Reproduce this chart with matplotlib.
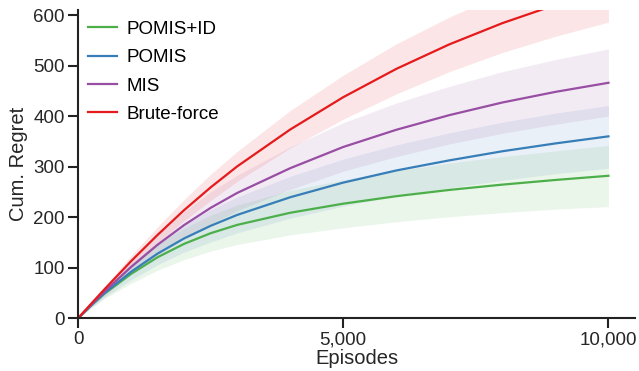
import matplotlib
matplotlib.use("Agg")
import matplotlib.pyplot as plt
from matplotlib.ticker import FuncFormatter

plt.rcParams['font.family'] = ['Liberation Sans', 'DejaVu Sans']

episodes = [0, 250, 500, 1000, 1500, 2000, 2500, 3000, 4000, 5000, 6000, 7000, 8000, 9000, 10000]

pomis_id_mean = [0, 25.5, 48.8, 87.8, 120.8, 147.3, 168.3, 184.8, 208.8, 226.8, 241.6, 254, 264.5, 273.7, 282]
pomis_id_low = [0, 20, 39, 69, 95, 116, 133, 146, 165, 179, 191, 201, 209, 216, 221]
pomis_id_high = [0, 31, 59, 106, 146, 178, 204, 224, 253, 274, 292, 307, 320, 331, 342]

pomis_mean = [0, 26, 50, 92, 128, 158, 183, 204.5, 239.5, 268.5, 292.5, 312.5, 330.5, 346, 360]
pomis_low = [0, 21, 41, 76, 106, 131, 151, 169, 198, 222, 242, 258, 273, 286, 297]
pomis_high = [0, 31, 59, 108, 150, 185, 215, 240, 281, 315, 343, 367, 388, 406, 421]

mis_mean = [0, 27, 53, 101.5, 145.5, 184.5, 218.5, 248, 297, 339, 373, 402, 427, 448, 466]
mis_low = [0, 23, 45, 87, 125, 158, 187, 213, 255, 291, 320, 345, 366, 384, 400]
mis_high = [0, 31, 61, 116, 166, 211, 250, 283, 339, 387, 426, 459, 488, 512, 533]

brute_mean = [0, 29, 57.5, 113, 165, 214, 259, 300.5, 373.5, 437.5, 493.5, 542, 584, 620, 651]
brute_low = [0, 26, 52, 102, 149, 193, 233, 271, 337, 394, 444, 488, 526, 558, 586]
brute_high = [0, 32, 63, 124, 181, 235, 285, 330, 411, 481, 543, 596, 642, 682, 716]

labels = ['POMIS+ID', 'POMIS', 'MIS', 'Brute-force']
colors = ['#4daf4a', '#377eb8', '#984ea3', '#e41a1c']
means = [pomis_id_mean, pomis_mean, mis_mean, brute_mean]
lows = [pomis_id_low, pomis_low, mis_low, brute_low]
highs = [pomis_id_high, pomis_high, mis_high, brute_high]

xticks = [0, 5000, 10000]
yticks = [0, 100, 200, 300, 400, 500, 600]

fig = plt.figure(figsize=(6.39, 3.71), dpi=100)
ax = fig.add_axes([78/639, 1 - 318.3/371, (635-78)/639, (318.3-10)/371])

for m, lo, hi, c in zip(means, lows, highs, colors):
    ax.fill_between(episodes, lo, hi, color=c, alpha=0.11, linewidth=0)
for m, c, lab in zip(means, colors, labels):
    ax.plot(episodes, m, color=c, lw=1.6, label=lab, solid_joinstyle='round')

ax.set_xlim(0, 10500)
ax.set_ylim(0, 610)
ax.set_xticks(xticks)
ax.set_yticks(yticks)
ax.xaxis.set_major_formatter(FuncFormatter(lambda v, p: f"{int(v):,}"))
for s in ['top', 'right']:
    ax.spines[s].set_visible(False)
for s in ['left', 'bottom']:
    ax.spines[s].set_linewidth(1.5)
    ax.spines[s].set_color('#222222')
ax.tick_params(axis='both', length=7, width=1.5, color='#222222', labelsize=13.5,
               labelcolor='#262626', pad=2.5)
ax.set_xlabel('Episodes', fontsize=14.5, color='#262626', labelpad=0.5)
ax.set_ylabel('Cum. Regret', fontsize=14.5, color='#262626', labelpad=3.5)

leg = ax.legend(loc='upper left', bbox_to_anchor=(0.018, 0.965), frameon=False,
                fontsize=13.5, handlelength=1.55, handletextpad=0.48,
                labelspacing=0.6, borderaxespad=0, borderpad=0)

fig.savefig('out.png', dpi=100)
